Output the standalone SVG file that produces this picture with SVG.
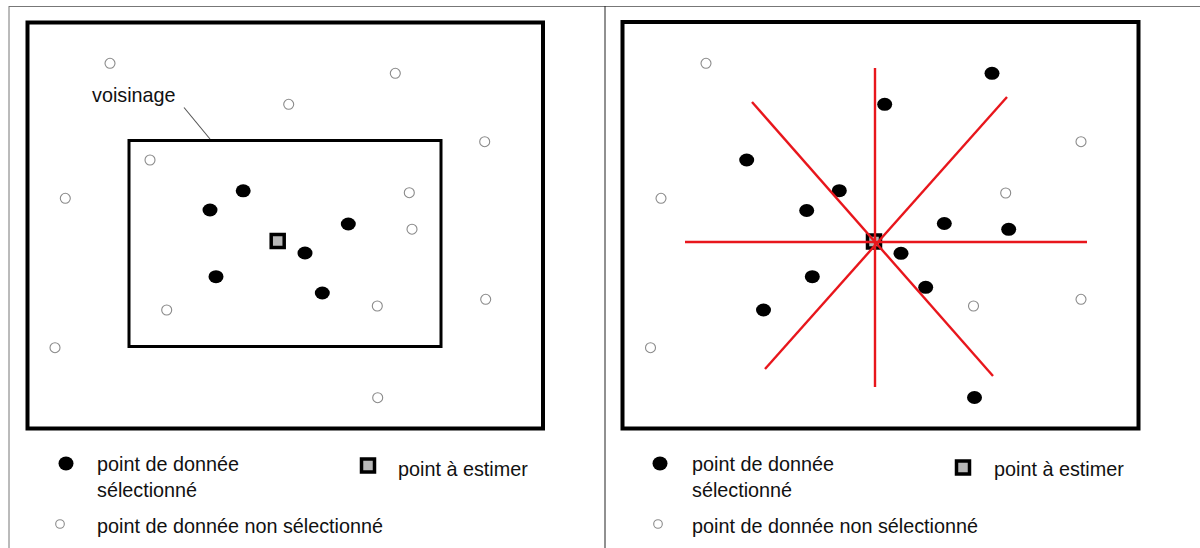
<svg xmlns="http://www.w3.org/2000/svg" width="1200" height="548" viewBox="0 0 1200 548">
<defs>
<style>
.frame{fill:none;stroke:#000;stroke-width:4}
.inner{fill:none;stroke:#000;stroke-width:3}
.sel{fill:#000}
.uns{fill:#fff;stroke:#8a8a8a;stroke-width:1.1}
.est{fill:#b8b8b8;stroke:#000;stroke-width:3.5}
.ray{stroke:#e8161c;stroke-width:2.4;fill:none}
.txt{font-family:"Liberation Sans",Arial,sans-serif;font-size:19.8px;fill:#111}
.page{stroke:#777;stroke-width:1;fill:none}
</style>
<ellipse id="dot" class="sel" cx="0" cy="0" rx="7.5" ry="6.5"/>
<circle id="ring" class="uns" cx="0" cy="0" r="5"/>
</defs>
<rect width="1200" height="548" fill="#fff"/>
<g id="page">
<line class="page" x1="9" y1="6.5" x2="1200" y2="6.5"/>
<line class="page" x1="9" y1="6" x2="9" y2="548"/>
<line x1="605" y1="6" x2="605" y2="548" stroke="#222" stroke-width="1"/>
</g>

<!-- Left panel -->
<g id="left-panel">
<rect class="frame" x="27.5" y="22.5" width="515.5" height="406"/>
</g>
<g id="voisinage">
<rect class="inner" x="129" y="140.5" width="312" height="206"/>
<text class="txt" x="92" y="102">voisinage</text>
</g>
<g id="left-connectors">
<line x1="184" y1="107.5" x2="210" y2="139" stroke="#555" stroke-width="1.1"/>
</g>
<g id="left-unselected">
<use href="#ring" x="110" y="63.3"/>
<use href="#ring" x="395.3" y="73.3"/>
<use href="#ring" x="288.7" y="104.3"/>
<use href="#ring" x="484.7" y="141.7"/>
<use href="#ring" x="150" y="160"/>
<use href="#ring" x="409.3" y="192.7"/>
<use href="#ring" x="65.3" y="198.3"/>
<use href="#ring" x="412" y="229.2"/>
<use href="#ring" x="485.7" y="299.3"/>
<use href="#ring" x="377.3" y="306"/>
<use href="#ring" x="166.7" y="310"/>
<use href="#ring" x="55" y="347.7"/>
<use href="#ring" x="377.7" y="397.7"/>
</g>
<g id="left-selected">
<use href="#dot" x="243.2" y="190.8"/>
<use href="#dot" x="210" y="210"/>
<use href="#dot" x="348.3" y="224"/>
<use href="#dot" x="305" y="253"/>
<use href="#dot" x="216" y="276.7"/>
<use href="#dot" x="322.3" y="293"/>
</g>
<g id="left-estimate">
<rect class="est" x="271.2" y="234.5" width="13" height="13"/>
</g>
<g id="left-legend">
<ellipse class="sel" cx="66" cy="463.5" rx="7.5" ry="7"/>
<text class="txt" x="97" y="471">point de donnée</text>
<text class="txt" x="97" y="497">sélectionné</text>
<rect class="est" x="361.5" y="459" width="13" height="13"/>
<text class="txt" x="398" y="476">point à estimer</text>
<circle class="uns" cx="60" cy="524" r="4.3"/>
<text class="txt" x="97" y="533">point de donnée non sélectionné</text>
</g>

<!-- Right panel -->
<g id="right-panel">
<rect class="frame" x="622.5" y="22" width="516" height="406.5"/>
</g>
<g id="right-unselected">
<use href="#ring" x="706" y="63.3"/>
<use href="#ring" x="1081" y="141.7"/>
<use href="#ring" x="1005.7" y="193"/>
<use href="#ring" x="661" y="198.3"/>
<use href="#ring" x="1081" y="299.3"/>
<use href="#ring" x="973.5" y="306"/>
<use href="#ring" x="650.5" y="347.7"/>
</g>
<g id="right-selected">
<use href="#dot" x="992" y="73.3"/>
<use href="#dot" x="884.7" y="104.3"/>
<use href="#dot" x="746.7" y="160"/>
<use href="#dot" x="839.3" y="190.7"/>
<use href="#dot" x="806.7" y="210.5"/>
<use href="#dot" x="944.3" y="223.5"/>
<use href="#dot" x="1008.7" y="229.3"/>
<use href="#dot" x="901" y="253.3"/>
<use href="#dot" x="812.3" y="276.7"/>
<use href="#dot" x="925.7" y="287.3"/>
<use href="#dot" x="763.5" y="310"/>
<use href="#dot" x="974.5" y="397.5"/>
</g>
<g id="right-estimate">
<rect class="est" x="867.5" y="235" width="13" height="13"/>
</g>
<g id="octant-rays">
<line class="ray" x1="685" y1="242" x2="1087" y2="242"/>
<line class="ray" x1="875" y1="68" x2="875" y2="387"/>
<line class="ray" x1="752" y1="102" x2="993" y2="376"/>
<line class="ray" x1="1007" y1="97" x2="765" y2="369"/>
</g>
<g id="right-legend">
<ellipse class="sel" cx="660" cy="463.5" rx="7.5" ry="7"/>
<text class="txt" x="692" y="471">point de donnée</text>
<text class="txt" x="692" y="497">sélectionné</text>
<rect class="est" x="956.5" y="461" width="13" height="13"/>
<text class="txt" x="994" y="476">point à estimer</text>
<circle class="uns" cx="658" cy="524" r="4.3"/>
<text class="txt" x="692" y="533">point de donnée non sélectionné</text>
</g>
</svg>
